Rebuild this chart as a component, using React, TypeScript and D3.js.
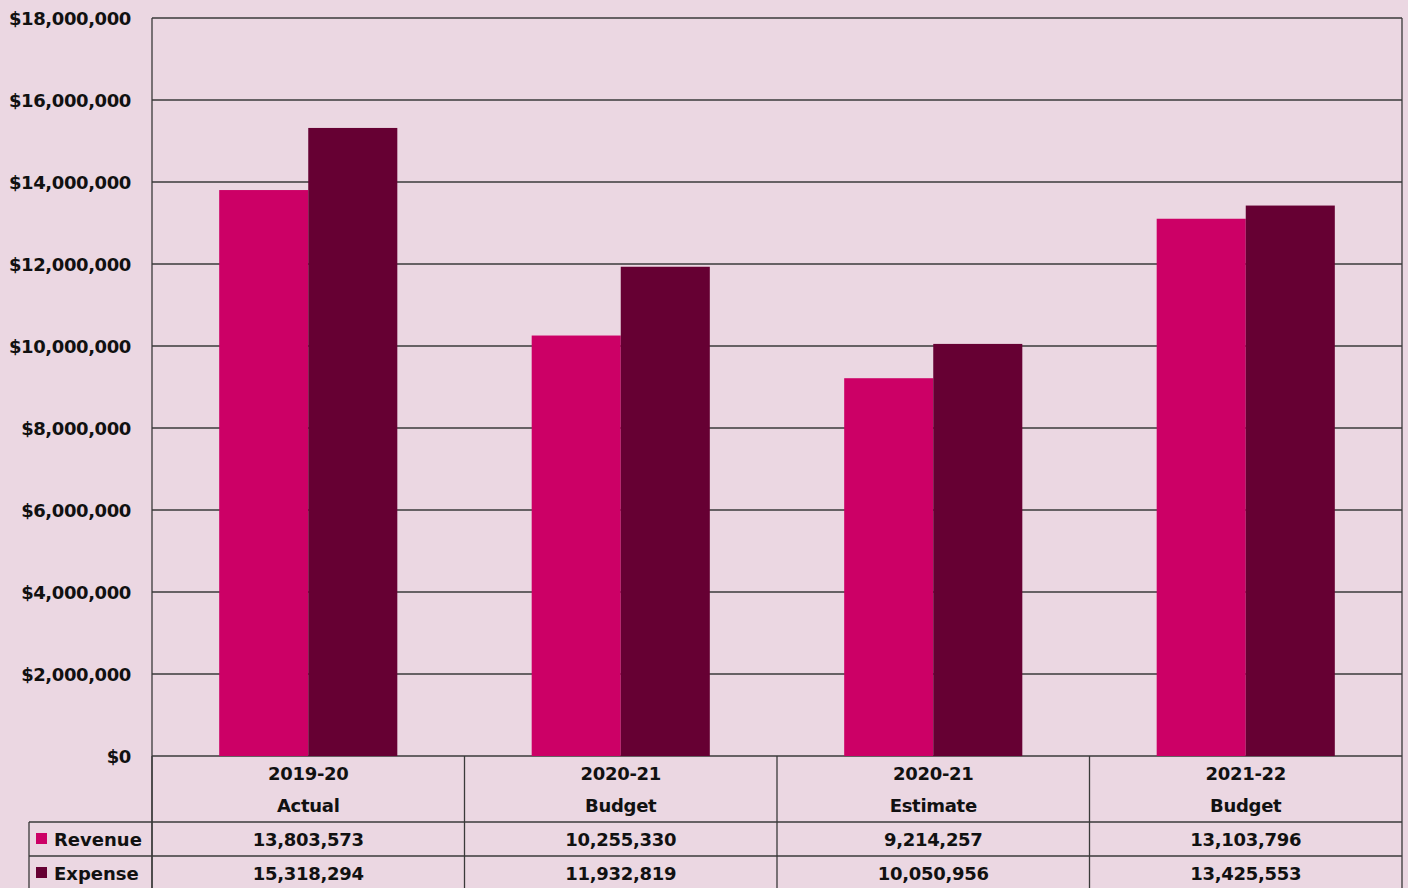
import React from "react";
import * as d3 from "d3";

const years = ["2019-20", "2020-21", "2020-21", "2021-22"];
const kinds = ["Actual", "Budget", "Estimate", "Budget"];
const revenue = [13803573, 10255330, 9214257, 13103796];
const expense = [15318294, 11932819, 10050956, 13425553];
const yTicks = [0, 2000000, 4000000, 6000000, 8000000, 10000000, 12000000, 14000000, 16000000, 18000000];
const seriesNames = ["Revenue", "Expense"];
const seriesColors = ["#CC0066", "#660033"];

const W = 1408, H = 888;
const L = 152, R = 1402, T = 18, B = 756;
const row1 = 822, row2 = 856;
const legL = 29;
const FONT = "'DejaVu Sans', sans-serif";

export default function App() {
  const x = d3.scaleBand<number>().domain(d3.range(years.length)).range([L, R]).paddingInner(0).paddingOuter(0);
  const y = d3.scaleLinear().domain([0, 18000000]).range([B, T]);
  const bw = x.bandwidth();
  const barW = bw * 0.285;
  const fmt = d3.format(",");
  const lineC = "#3a3a3a";
  const series = [revenue, expense];
  return (
    <svg width={W} height={H} style={{ position: "absolute", left: 0, top: 0, display: "block" }} fontFamily={FONT}>
      <rect x={0} y={0} width={W} height={H} fill="#EBD7E2" />
      {yTicks.map((t) => (
        <line key={"g" + t} x1={L} x2={R} y1={y(t)} y2={y(t)} stroke={lineC} strokeWidth={1.3} />
      ))}
      {yTicks.map((t) => (
        <text key={"t" + t} x={131} y={y(t) + 7} textAnchor="end" fontSize={18} letterSpacing={-0.4} fontWeight="bold" fill="#111">
          {"$" + fmt(t)}
        </text>
      ))}
      {series.map((vals, s) =>
        vals.map((v, i) => {
          const cx = (x(i) as number) + bw / 2;
          const bx = s === 0 ? cx - barW : cx;
          return <rect key={s + "-" + i} x={bx} y={y(v)} width={barW} height={B - y(v)} fill={seriesColors[s]} />;
        })
      )}
      <line x1={L} x2={L} y1={T} y2={H} stroke={lineC} strokeWidth={1.3} />
      <line x1={R} x2={R} y1={T} y2={H} stroke={lineC} strokeWidth={1.3} />
      {years.map((_, i) => (
        <line key={"v" + i} x1={x(i) as number} x2={x(i) as number} y1={B} y2={H} stroke={lineC} strokeWidth={1.3} />
      ))}
      <line x1={legL} x2={R} y1={row1} y2={row1} stroke={lineC} strokeWidth={1.3} />
      <line x1={legL} x2={R} y1={row2} y2={row2} stroke={lineC} strokeWidth={1.3} />
      <line x1={legL} x2={legL} y1={row1} y2={H} stroke={lineC} strokeWidth={1.3} />
      {years.map((yr, i) => {
        const cx = (x(i) as number) + bw / 2;
        return (
          <g key={"c" + i} fontSize={18} letterSpacing={-0.3} fontWeight="bold" fill="#111" textAnchor="middle">
            <text x={cx} y={780}>{yr}</text>
            <text x={cx} y={812}>{kinds[i]}</text>
            <text x={cx} y={846}>{fmt(revenue[i])}</text>
            <text x={cx} y={880}>{fmt(expense[i])}</text>
          </g>
        );
      })}
      {seriesNames.map((n, s) => {
        const yy = s === 0 ? row1 : row2;
        return (
          <g key={n}>
            <rect x={36} y={yy + 11} width={11} height={11} fill={seriesColors[s]} />
            <text x={54} y={yy + 24} fontSize={18} fontWeight="bold" fill="#111">{n}</text>
          </g>
        );
      })}
    </svg>
  );
}
